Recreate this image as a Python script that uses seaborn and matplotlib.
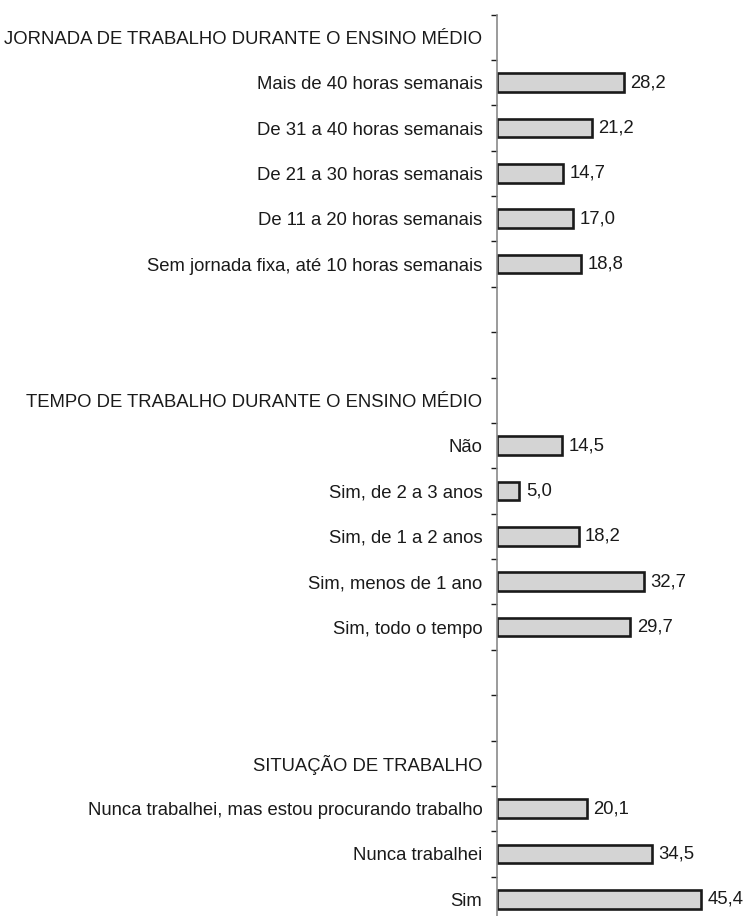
import pandas as pd
import numpy as np
import matplotlib.pyplot as plt
import seaborn as sns
from matplotlib.ticker import FixedLocator

# Section titles and row labels, top to bottom
title_jornada = "JORNADA DE TRABALHO DURANTE O ENSINO MÉDIO"
title_tempo = "TEMPO DE TRABALHO DURANTE O ENSINO MÉDIO"
title_situacao = "SITUAÇÃO DE TRABALHO"

jornada_labels = ["Mais de 40 horas semanais", "De 31 a 40 horas semanais",
                  "De 21 a 30 horas semanais", "De 11 a 20 horas semanais",
                  "Sem jornada fixa, até 10 horas semanais"]
jornada_values = [28.2, 21.2, 14.7, 17.0, 18.8]

tempo_labels = ["Não", "Sim, de 2 a 3 anos", "Sim, de 1 a 2 anos",
                "Sim, menos de 1 ano", "Sim, todo o tempo"]
tempo_values = [14.5, 5.0, 18.2, 32.7, 29.7]

situacao_labels = ["Nunca trabalhei, mas estou procurando trabalho",
                   "Nunca trabalhei", "Sim"]
situacao_values = [20.1, 34.5, 45.4]

# Build the table of bars
df = pd.DataFrame({
    "label": jornada_labels + tempo_labels + situacao_labels,
    "value": jornada_values + tempo_values + situacao_values,
})

# Full row order including section titles and empty spacer rows
order = ([title_jornada] + jornada_labels + ["_gap1", "_gap2"]
         + [title_tempo] + tempo_labels + ["_gap3", "_gap4"]
         + [title_situacao] + situacao_labels)
n_rows = len(order)

sns.set_style("white")
plt.rcParams['font.family'] = ['Liberation Sans', 'DejaVu Sans']

fig = plt.figure(figsize=(7.44, 9.16), dpi=100)
ax = fig.add_axes([497 / 744, 1 - 922 / 916, 1 - 497 / 744, 907.4 / 916])

sns.barplot(data=df, x="value", y="label", order=order, orient="h",
            color="#d4d4d4", edgecolor="#1a1a1a", linewidth=1.9,
            width=0.41, saturation=1, ax=ax)

# Value labels with comma decimal
for container in ax.containers:
    labels = [f"{b.get_width():.1f}".replace(".", ",") for b in container]
    ax.bar_label(container, labels=labels, padding=4.5, fontsize=13.3, color="#1a1a1a")

ax.set_xlim(0, 55)
ax.set_ylim(n_rows - 0.5, -0.5)

# Tick labels at row centres, tick marks at row boundaries
ax.set_yticks(range(n_rows))
ax.set_yticklabels(["" if s.startswith("_gap") else s for s in order])
ax.yaxis.set_minor_locator(FixedLocator(np.arange(-0.5, n_rows, 1)))
ax.tick_params(axis="y", which="major", length=0, pad=10.5,
               labelsize=13.3, labelcolor="#1a1a1a")
ax.tick_params(axis="y", which="minor", left=True, length=4, width=1,
               color="#1a1a1a")
ax.set_xticks([])
ax.set_xlabel("")
ax.set_ylabel("")

for side in ["top", "right", "bottom"]:
    ax.spines[side].set_visible(False)
ax.spines["left"].set_color("#8a8a8a")
ax.spines["left"].set_linewidth(1.2)

fig.savefig("out.png", dpi=100)
